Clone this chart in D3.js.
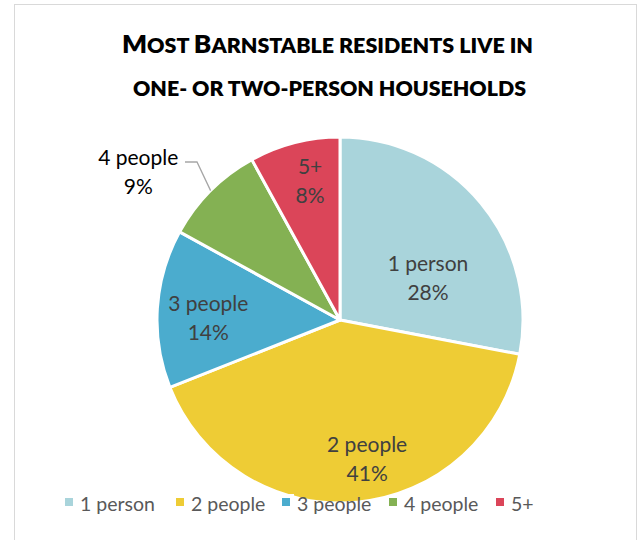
<!DOCTYPE html>
<html><head><meta charset="utf-8">
<script src="https://cdn.jsdelivr.net/npm/d3@7"></script>
<style>
html,body{margin:0;padding:0;background:#fff;}
svg{display:block;font-family:Lato,"Open Sans",sans-serif;}
</style></head>
<body>
<svg id="c" width="643" height="540"></svg>
<script>
const categories = ["1 person","2 people","3 people","4 people","5+"];
const values = [28, 41, 14, 9, 8];
const percentLabels = ["28%","41%","14%","9%","8%"];
const colors = ["#A9D4DB","#EECC35","#4BACCE","#84B153","#DB4559"];
const titleLines = ["Most Barnstable residents live in","one- or two-person households"];

const svg = d3.select("#c");
const cx = 340, cy = 320, R = 183;

// frame
svg.append("rect").attr("x",14.5).attr("y",4.5).attr("width",622).attr("height",560)
  .attr("fill","#fff").attr("stroke","#d9d9d9").attr("stroke-width",1);

// title rendered as manual small caps
function smallCaps(textSel, str, big, small){
  const words = str.split(" ");
  words.forEach((w,wi)=>{
    const first = w[0], rest = w.slice(1);
    const firstIsUpper = first === first.toUpperCase() && /[A-Za-z]/.test(first);
    if(firstIsUpper){
      textSel.append("tspan").style("font-size",big+"px").text(first);
      if(rest) textSel.append("tspan").style("font-size",small+"px").text(rest.toUpperCase()+(wi<words.length-1?" ":""));
      else if(wi<words.length-1) textSel.append("tspan").style("font-size",small+"px").text(" ");
    } else {
      textSel.append("tspan").style("font-size",small+"px").text(w.toUpperCase()+(wi<words.length-1?" ":""));
    }
  });
}
const t1 = svg.append("text").attr("x",122).attr("y",53).style("font-weight","800").attr("fill","#000");
smallCaps(t1, titleLines[0], 25, 20.5);
const t2 = svg.append("text").attr("x",133).attr("y",96).style("font-weight","800").attr("fill","#000");
smallCaps(t2, titleLines[1], 21, 21);
[[t1,411],[t2,393]].forEach(([t,w])=>{
  t.attr("textLength",w).attr("lengthAdjust","spacingAndGlyphs");
});

const data = categories.map((c,i)=>({cat:c, value:values[i], pct:percentLabels[i], color:colors[i]}));
const pie = d3.pie().value(d=>d.value).sort(null);
const arcs = pie(data);
const arc = d3.arc().innerRadius(0).outerRadius(R);

const g = svg.append("g").attr("transform",`translate(${cx},${cy})`);
g.selectAll("path").data(arcs).join("path")
  .attr("d",arc).attr("fill",d=>d.data.color)
  .attr("stroke","#fff").attr("stroke-width",3).attr("stroke-linejoin","round");

// label layout (radius factor, angle tweak in degrees)
const labelLayout = {"1 person":[0.535,13.6],"2 people":[0.77,-5.7],"3 people":[0.72,-2.3],"4 people":[1.37,-8.6],"5+":[0.78,2.3]};
arcs.forEach(a=>{
  const [rf,da] = labelLayout[a.data.cat];
  const mid = (a.startAngle+a.endAngle)/2 + da*Math.PI/180;
  const lx = Math.sin(mid)*R*rf, ly = -Math.cos(mid)*R*rf;
  const outside = rf>1;
  const t = g.append("text").attr("text-anchor","middle")
    .style("font-size","21px").attr("fill", outside? "#000":"#404040");
  t.append("tspan").attr("x",lx).attr("y",ly-6).text(a.data.cat);
  t.append("tspan").attr("x",lx).attr("y",ly+23).text(a.data.pct);
  if(outside){
    const m = (a.startAngle+a.endAngle)/2;
    const ex = Math.sin(m)*R, ey = -Math.cos(m)*R;
    g.append("polyline")
      .attr("points",[[ex,ey],[-143,-158],[-155,-158]].map(p=>p.join(",")).join(" "))
      .attr("fill","none").attr("stroke","#a6a6a6").attr("stroke-width",1.3);
  }
});

// legend
const legendX = [65,176,282,389,496];
const lg = svg.append("g");
data.forEach((d,i)=>{
  const x = legendX[i];
  if(i===2) lg.append("rect").attr("x",x-4).attr("y",494).attr("width",16).attr("height",15).attr("fill","#fff");
  lg.append("rect").attr("x",x).attr("y",498).attr("width",8).attr("height",8).attr("fill",d.color);
  lg.append("text").attr("x",x+15).attr("y",511).style("font-size","19.5px").attr("fill","#595959").text(d.cat);
});
</script>
</body></html>
